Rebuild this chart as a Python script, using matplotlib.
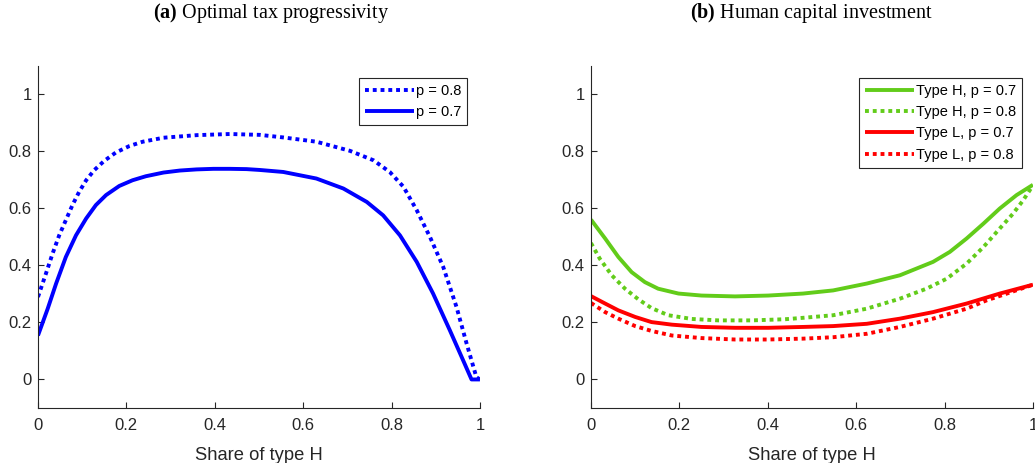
import numpy as np
import matplotlib
matplotlib.use("Agg")
import matplotlib.pyplot as plt

plt.rcParams['font.family'] = ['Liberation Sans', 'DejaVu Sans']
plt.rcParams['mathtext.fontset'] = 'custom'
plt.rcParams['mathtext.rm'] = 'Liberation Serif'
plt.rcParams['mathtext.bf'] = 'Liberation Serif:bold'

# panel (a): optimal tax progressivity
xa_07 = [0.0, 0.022, 0.041, 0.063, 0.086, 0.109, 0.131, 0.154, 0.184, 0.214, 0.244,
         0.284, 0.321, 0.359, 0.397, 0.434, 0.472, 0.502, 0.555, 0.63, 0.691, 0.744,
         0.781, 0.819, 0.857, 0.894, 0.932, 0.962, 0.981, 1.0]
ya_07 = [0.154, 0.248, 0.336, 0.429, 0.505, 0.564, 0.611, 0.646, 0.678, 0.698, 0.712,
         0.725, 0.732, 0.736, 0.738, 0.738, 0.737, 0.734, 0.727, 0.704, 0.669, 0.622,
         0.575, 0.505, 0.412, 0.301, 0.172, 0.067, 0.0, 0.0]
xa_08 = [0.0, 0.018, 0.033, 0.048, 0.063, 0.078, 0.093, 0.109, 0.127, 0.15, 0.176,
         0.207, 0.237, 0.284, 0.359, 0.434, 0.502, 0.555, 0.63, 0.706, 0.759, 0.796,
         0.827, 0.857, 0.887, 0.917, 0.947, 0.97, 0.992, 1.0]
ya_08 = [0.289, 0.371, 0.441, 0.505, 0.558, 0.611, 0.657, 0.698, 0.733, 0.766, 0.795,
         0.818, 0.833, 0.847, 0.856, 0.86, 0.857, 0.848, 0.833, 0.801, 0.768, 0.727,
         0.675, 0.593, 0.499, 0.394, 0.254, 0.125, 0.008, 0.0]

# panel (b): human capital investment
xh_07 = [0.0, 0.032, 0.062, 0.092, 0.122, 0.152, 0.198, 0.25, 0.326, 0.401, 0.48, 0.548,
         0.624, 0.699, 0.774, 0.812, 0.85, 0.888, 0.925, 0.963, 1.0]
h_07 = [0.56, 0.494, 0.429, 0.376, 0.341, 0.318, 0.301, 0.294, 0.291, 0.294, 0.301,
        0.312, 0.336, 0.365, 0.412, 0.447, 0.494, 0.546, 0.599, 0.646, 0.682]
xh_08 = [0.0, 0.02, 0.047, 0.077, 0.107, 0.137, 0.175, 0.228, 0.288, 0.364, 0.439, 0.48,
         0.548, 0.624, 0.699, 0.759, 0.805, 0.85, 0.888, 0.925, 0.955, 0.978, 1.0]
h_08 = [0.478, 0.423, 0.365, 0.318, 0.281, 0.25, 0.225, 0.212, 0.207, 0.207, 0.211,
        0.216, 0.225, 0.248, 0.283, 0.318, 0.353, 0.406, 0.464, 0.529, 0.581, 0.628, 0.68]
xl_07 = [0.0, 0.032, 0.062, 0.1, 0.137, 0.183, 0.25, 0.326, 0.401, 0.48, 0.548, 0.624,
         0.699, 0.774, 0.85, 0.925, 1.0]
l_07 = [0.292, 0.266, 0.242, 0.219, 0.201, 0.192, 0.184, 0.181, 0.181, 0.184, 0.187,
        0.195, 0.213, 0.236, 0.266, 0.301, 0.332]
xl_08 = [0.0, 0.032, 0.062, 0.1, 0.137, 0.183, 0.25, 0.326, 0.401, 0.48, 0.548, 0.624,
         0.699, 0.774, 0.85, 0.895, 0.941, 1.0]
l_08 = [0.268, 0.236, 0.213, 0.187, 0.17, 0.154, 0.145, 0.14, 0.14, 0.143, 0.148,
        0.16, 0.184, 0.213, 0.248, 0.277, 0.301, 0.332]

ticks = [0, 0.2, 0.4, 0.6, 0.8, 1]
tick_labels = ['0', '0.2', '0.4', '0.6', '0.8', '1']
green = '#62cc1a'
dot = (0, (1, 1))
lw = 2.8
ink = '#262626'


def style(ax):
    ax.set_xlim(0, 1)
    ax.set_ylim(-0.1, 1.1)
    ax.set_xticks(ticks)
    ax.set_xticklabels(tick_labels)
    ax.set_yticks(ticks)
    ax.set_yticklabels(tick_labels)
    for s in ['top', 'right']:
        ax.spines[s].set_visible(False)
    for s in ['left', 'bottom']:
        ax.spines[s].set_color(ink)
        ax.spines[s].set_linewidth(0.8)
    ax.tick_params(direction='in', length=4, width=0.8, colors=ink, labelsize=12)
    ax.tick_params(axis='x', pad=7)
    ax.tick_params(axis='y', pad=4.5)
    ax.set_xlabel('Share of type H', fontsize=13.2, color=ink, labelpad=10)


def legend(ax, anchor):
    leg = ax.legend(loc='upper right', bbox_to_anchor=anchor, fontsize=10.5,
                    handlelength=3.4, handletextpad=0.1, borderpad=0.4,
                    labelspacing=0.5, fancybox=False, framealpha=1, borderaxespad=0)
    leg.get_frame().set_edgecolor(ink)
    leg.get_frame().set_linewidth(0.8)


fig = plt.figure(figsize=(10.35, 4.63), dpi=100)
ax1 = fig.add_axes([0.0367, 0.1188, 0.427, 0.7397])
ax2 = fig.add_axes([0.571, 0.1188, 0.427, 0.7397])

ax1.plot(xa_08, ya_08, color='blue', lw=lw, ls=dot, dash_capstyle='butt', label='p = 0.8')
ax1.plot(xa_07, ya_07, color='blue', lw=lw, solid_capstyle='butt', label='p = 0.7')
style(ax1)
legend(ax1, (0.9706, 0.9635))

ax2.plot(xh_07, h_07, color=green, lw=lw, solid_capstyle='butt', label='Type H, p = 0.7')
ax2.plot(xh_08, h_08, color=green, lw=lw, ls=dot, dash_capstyle='butt', label='Type H, p = 0.8')
ax2.plot(xl_07, l_07, color='red', lw=lw, solid_capstyle='butt', label='Type L, p = 0.7')
ax2.plot(xl_08, l_08, color='red', lw=lw, ls=dot, dash_capstyle='butt', label='Type L, p = 0.8')
style(ax2)
legend(ax2, (0.975, 0.9635))

fig.text(0.262, 0.972, r'$\mathbf{(a)}$ Optimal tax progressivity', ha='center', va='center',
         family='Liberation Serif', fontsize=14.5)
fig.text(0.784, 0.972, r'$\mathbf{(b)}$ Human capital investment', ha='center', va='center',
         family='Liberation Serif', fontsize=14.5)

fig.savefig('out.png', dpi=100)
